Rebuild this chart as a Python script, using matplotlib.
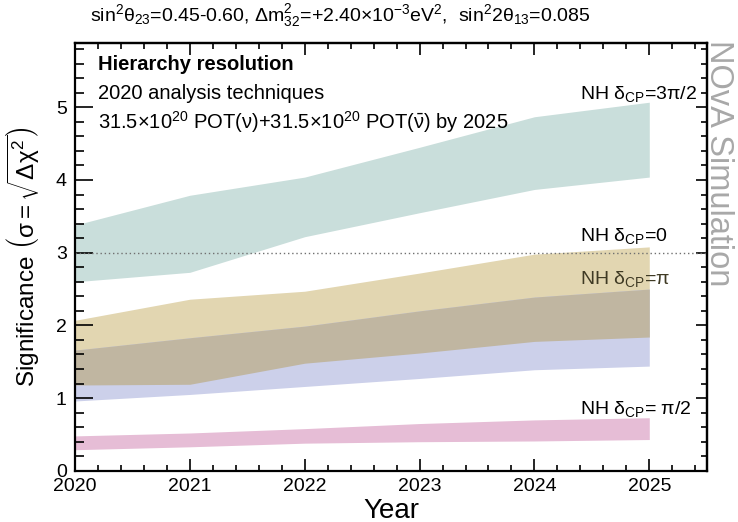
import matplotlib
matplotlib.use("Agg")
import matplotlib.pyplot as plt
import numpy as np
from matplotlib.ticker import MultipleLocator

plt.rcParams['font.family'] = ['Liberation Sans', 'DejaVu Sans']
plt.rcParams['mathtext.fontset'] = 'custom'
plt.rcParams['mathtext.rm'] = 'Liberation Sans'
plt.rcParams['mathtext.it'] = 'Liberation Sans:italic'
plt.rcParams['mathtext.bf'] = 'Liberation Sans:bold'
plt.rcParams['mathtext.default'] = 'regular'

# data
years = [2020, 2021, 2022, 2023, 2024, 2025]
nh_3pi2_hi = [3.38, 3.79, 4.04, 4.45, 4.87, 5.07]
nh_3pi2_lo = [2.60, 2.73, 3.22, 3.55, 3.87, 4.04]
nh_0_hi = [2.07, 2.36, 2.47, 2.72, 2.98, 3.08]
nh_0_lo = [1.18, 1.19, 1.48, 1.62, 1.78, 1.84]
nh_pi_hi = [1.66, 1.83, 1.99, 2.20, 2.39, 2.50]
nh_pi_lo = [0.96, 1.05, 1.16, 1.27, 1.39, 1.44]
nh_pi2_hi = [0.48, 0.52, 0.58, 0.65, 0.70, 0.73]
nh_pi2_lo = [0.29, 0.33, 0.38, 0.40, 0.41, 0.43]

fig = plt.figure(figsize=(7.38, 5.22), dpi=100)
ax = fig.add_axes([0.1016, 0.0981, 0.9576 - 0.1016, 0.917 - 0.0981])

x = np.array(years)
ax.fill_between(x, nh_3pi2_lo, nh_3pi2_hi, color='#c9dedb', lw=0)
ax.fill_between(x, nh_0_lo, nh_0_hi, color='#e2d6b1', lw=0)
ax.fill_between(x, nh_pi_lo, nh_pi_hi, color='#ccd0ea', lw=0)
# overlap of the NH 0 and NH pi bands
ax.fill_between(x, nh_0_lo, nh_pi_hi, color='#c0b6a1', lw=0)
ax.fill_between(x, nh_pi2_lo, nh_pi2_hi, color='#e6bdd6', lw=0)

ax.axhline(3, color='#707070', ls=(0, (1, 2)), lw=1.0, zorder=1.6)

ax.set_xlim(2020, 2025.5)
ax.set_ylim(0, 5.88)
ax.set_xticks(years)
ax.set_yticks([0, 1, 2, 3, 4, 5])
ax.xaxis.set_minor_locator(MultipleLocator(0.2))
ax.yaxis.set_minor_locator(MultipleLocator(0.2))
ax.tick_params(axis='both', which='both', direction='in', width=1.2,
               labelsize=14, colors='black')
ax.tick_params(axis='x', which='major', length=8.6, pad=5)
ax.tick_params(axis='x', which='minor', length=4.3)
ax.tick_params(axis='y', which='major', length=13, pad=6)
ax.tick_params(axis='y', which='minor', length=6.5)
for s in ax.spines.values():
    s.set_linewidth(1.6)

# top and right ticks
top = ax.secondary_xaxis('top')
top.set_xticks(years)
top.xaxis.set_minor_locator(MultipleLocator(0.2))
top.tick_params(which='both', direction='in', width=1.2, labeltop=False)
top.tick_params(which='major', length=8.6)
top.tick_params(which='minor', length=4.3)
top.spines['top'].set_linewidth(1.6)
right = ax.secondary_yaxis('right')
right.set_yticks([0, 1, 2, 3, 4, 5])
right.yaxis.set_minor_locator(MultipleLocator(0.2))
right.tick_params(which='both', direction='in', width=1.2, labelright=False)
right.tick_params(which='major', length=8)
right.tick_params(which='minor', length=4)
right.spines['right'].set_linewidth(1.6)

ax.set_xlabel('Year', fontsize=20, labelpad=2)
ax.set_ylabel(r'Significance $\left(\sigma=\sqrt{\Delta\chi^2}\right)$',
              fontsize=17.5, labelpad=10)

# band labels
lx = 2024.40
ax.text(lx, 5.11, r'NH $\delta_{CP}$=3$\pi$/2', fontsize=14, va='baseline')
ax.text(lx, 3.16, r'NH $\delta_{CP}$=0', fontsize=14, va='baseline')
ax.text(lx, 2.565, r'NH $\delta_{CP}$=$\pi$', fontsize=14, va='baseline',
        color='#3f3a24')
ax.text(lx, 0.777, r'NH $\delta_{CP}$= $\pi$/2', fontsize=14, va='baseline')

# info text
tx = 2020.2
ax.text(tx, 5.51, 'Hierarchy resolution', fontsize=14.5, fontweight='bold',
        va='baseline')
ax.text(tx, 5.12, '2020 analysis techniques', fontsize=14.5, va='baseline')
ax.text(tx, 4.71,
        r'31.5$\times$10$^{20}$ POT($\nu$)+31.5$\times$10$^{20}$ POT($\bar{\nu}$) by 2025',
        fontsize=14.5, va='baseline')

fig.text(90 / 738, 1 - 16 / 522,
         r'sin$^2\theta_{23}$=0.45-0.60, $\Delta$m$^2_{32}$=+2.40$\times$10$^{-3}$eV$^2$,  sin$^2$2$\theta_{13}$=0.085',
         fontsize=14, ha='left', va='center')

fig.text(719 / 738, 1 - 40 / 522, 'NOvA Simulation', rotation=-90,
         fontsize=23.5, color='#a8a8a8', ha='center', va='top')

fig.savefig('out.png', dpi=100)
